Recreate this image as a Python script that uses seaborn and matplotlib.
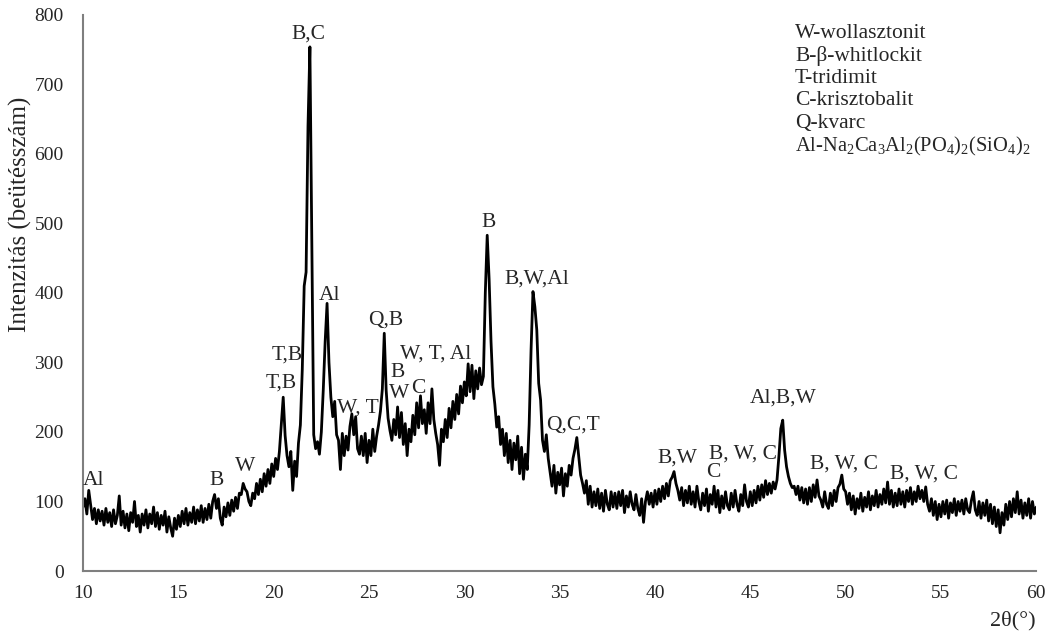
import numpy as np
import pandas as pd
import matplotlib
matplotlib.use("Agg")
import matplotlib.pyplot as plt
import seaborn as sns

# 2-theta grid (0.1 degree step) and read intensities
two_theta = np.round(np.arange(10.0, 60.0001, 0.1), 1)

i_10_15 = [92, 104, 82, 116, 95, 74, 90, 68, 88, 72,
           86, 66, 90, 70, 84, 64, 88, 68, 80, 108,
           66, 86, 62, 82, 58, 84, 70, 100, 64, 80,
           56, 82, 66, 88, 62, 82, 68, 92, 64, 84,
           60, 80, 66, 86, 56, 78, 62, 50, 76, 60]
i_15_20 = [80, 64, 86, 68, 90, 66, 84, 70, 92, 68,
           88, 72, 94, 70, 90, 74, 96, 76, 100, 110,
           90, 104, 76, 66, 92, 78, 98, 80, 102, 86,
           106, 90, 112, 110, 126, 118, 114, 100, 94, 112,
           104, 126, 110, 132, 114, 140, 122, 146, 126, 154]
i_20_25 = [136, 162, 146, 172, 210, 250, 195, 166, 150, 172,
           116, 158, 136, 184, 210, 290, 410, 430, 640, 754,
           470, 196, 176, 186, 168, 200, 260, 330, 385, 300,
           250, 222, 244, 196, 188, 146, 198, 166, 194, 174,
           208, 226, 196, 222, 176, 168, 194, 166, 198, 156]
i_25_30 = [188, 166, 204, 172, 194, 210, 230, 262, 342, 260,
           220, 202, 188, 218, 196, 236, 192, 228, 182, 212,
           166, 204, 186, 224, 196, 242, 206, 252, 212, 232,
           198, 242, 212, 262, 218, 198, 182, 152, 204, 186,
           218, 192, 234, 206, 244, 218, 254, 226, 266, 242]
i_30_35 = [272, 252, 298, 258, 296, 248, 288, 262, 292, 268,
           280, 400, 483, 420, 330, 265, 240, 207, 222, 182,
           204, 166, 198, 156, 188, 146, 184, 160, 194, 140,
           178, 132, 168, 146, 210, 318, 402, 380, 347, 270,
           246, 188, 172, 196, 162, 142, 122, 152, 112, 142]
i_35_40 = [124, 148, 108, 140, 122, 152, 138, 162, 175, 192,
           165, 138, 126, 112, 130, 96, 122, 92, 114, 94,
           118, 90, 112, 86, 116, 96, 88, 114, 92, 112,
           90, 114, 94, 116, 84, 108, 92, 114, 96, 88,
           110, 90, 80, 104, 70, 100, 114, 96, 112, 92]
i_40_45 = [116, 96, 118, 100, 122, 104, 126, 108, 130, 135,
           143, 126, 116, 102, 120, 94, 116, 98, 122, 96,
           114, 92, 122, 100, 88, 112, 94, 118, 86, 110,
           96, 122, 92, 116, 84, 108, 90, 114, 94, 88,
           112, 92, 116, 96, 86, 110, 94, 124, 100, 92]
i_45_50 = [114, 94, 116, 98, 122, 102, 124, 106, 130, 110,
           126, 112, 128, 118, 131, 165, 205, 217, 174, 150,
           136, 126, 120, 122, 110, 122, 102, 120, 98, 118,
           96, 120, 100, 124, 106, 131, 108, 102, 92, 114,
           96, 90, 112, 94, 116, 100, 120, 125, 138, 118]
i_50_55 = [114, 96, 112, 88, 108, 82, 104, 90, 112, 86,
           106, 92, 114, 88, 108, 94, 116, 92, 110, 96,
           118, 98, 128, 96, 116, 92, 112, 94, 118, 96,
           114, 92, 116, 100, 120, 96, 114, 100, 122, 104,
           116, 100, 121, 96, 86, 104, 80, 100, 74, 96]
i_55_60 = [78, 100, 82, 102, 76, 98, 84, 104, 80, 100,
           86, 102, 82, 104, 88, 84, 102, 114, 88, 80,
           100, 76, 98, 80, 102, 72, 96, 68, 92, 64,
           88, 55, 84, 66, 96, 74, 100, 78, 104, 84,
           114, 82, 102, 76, 98, 80, 104, 76, 100, 82,
           92]

intensity = (i_10_15 + i_15_20 + i_20_25 + i_25_30 + i_30_35 +
             i_35_40 + i_40_45 + i_45_50 + i_50_55 + i_55_60)

peak_labels = ["Al", "B", "W", "T,B", "T,B", "B,C", "Al", "W, T", "Q,B", "B", "W", "C",
               "W, T, Al", "B", "B,W,Al", "Q,C,T", "B,W", "C", "B, W, C", "Al,B,W",
               "B, W, C", "B, W, C"]
label_x = [10.55, 17.0, 18.5, 20.4, 20.7, 21.8, 22.95, 24.4, 25.85, 26.5, 26.6, 27.6,
           28.5, 31.25, 33.8, 35.7, 41.2, 43.05, 44.6, 46.7, 49.9, 54.1]
label_y = [130, 130, 150, 270, 311, 773, 397, 234, 361, 285, 256, 263,
           312, 502, 420, 210, 163, 141, 168, 249, 154, 140]

legend_lines = ["W-wollasztonit", "B-β-whitlockit", "T-tridimit", "C-krisztobalit", "Q-kvarc",
                r"Al-Na$_{\mathsf{2}}$Ca$_{\mathsf{3}}$Al$_{\mathsf{2}}$(PO$_{\mathsf{4}}$)$_{\mathsf{2}}$(SiO$_{\mathsf{4}}$)$_{\mathsf{2}}$"]

df = pd.DataFrame({"two_theta": two_theta, "intensity": intensity})

sns.set_style("white")
plt.rcParams["font.family"] = ["Liberation Serif", "DejaVu Serif"]
plt.rcParams["mathtext.fontset"] = "custom"
plt.rcParams["mathtext.rm"] = "Liberation Serif"
plt.rcParams["mathtext.sf"] = "Liberation Serif"
plt.rcParams["mathtext.it"] = "Liberation Serif:italic"

fig = plt.figure(figsize=(10.51, 6.37), dpi=100)
ax = fig.add_axes([0.079, 0.1036, 0.907, 0.873])

sns.lineplot(data=df, x="two_theta", y="intensity", color="black", lw=2.0, ax=ax)

ax.set_xlim(10, 60)
ax.set_ylim(0, 800)
ax.set_xticks(range(10, 61, 5))
ax.set_yticks(range(0, 801, 100))
ax.tick_params(axis="both", length=0, labelsize=14)
ax.tick_params(axis="x", pad=10)
ax.tick_params(axis="y", pad=14)
for s in ["top", "right"]:
    ax.spines[s].set_visible(False)
for s in ["left", "bottom"]:
    ax.spines[s].set_color("#7f7f7f")
    ax.spines[s].set_linewidth(1.5)

ax.set_xlabel("")
ax.set_ylabel("")
fig.text(20 / 1051, 1 - 214 / 637, "Intenzitás (beütésszám)", fontsize=18,
         rotation=90, ha="center", va="center")
fig.text(1013 / 1051, 1 - 621 / 637, "2θ(°)", fontsize=16, ha="center", va="center")

for t, x, y in zip(peak_labels, label_x, label_y):
    ax.text(x, y, t, fontsize=15.5, ha="center", va="center")

for k, t in enumerate(legend_lines):
    fs = 15.5 if k < 5 else 14.8
    fig.text(795 / 1051, 1 - (33 + k * 22.6) / 637, t, fontsize=fs, ha="left", va="center")

fig.savefig("out.png", dpi=100)
